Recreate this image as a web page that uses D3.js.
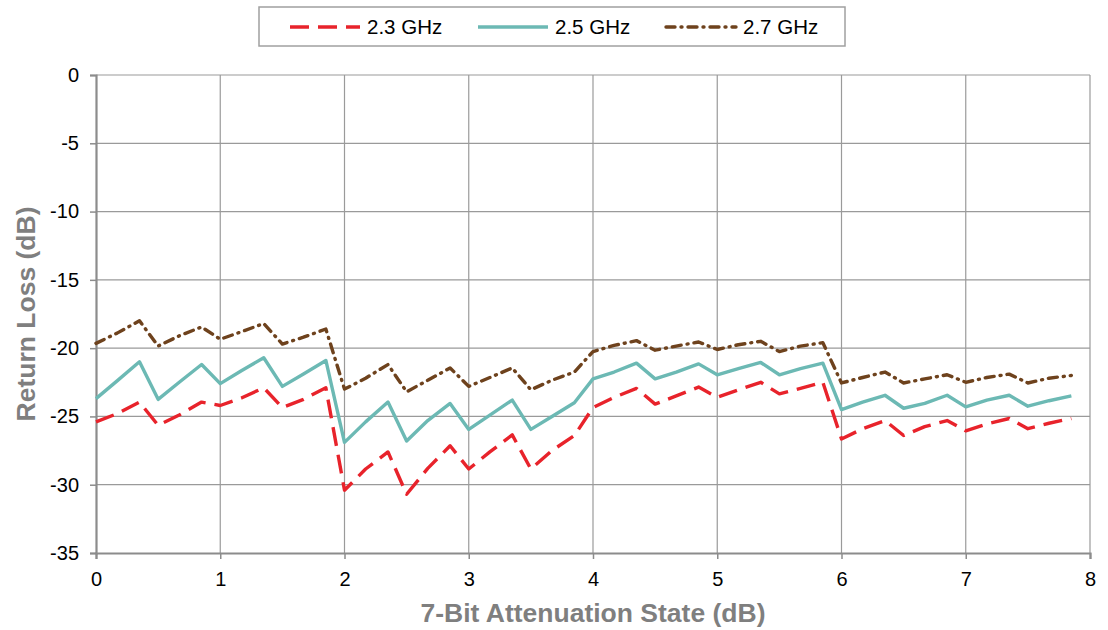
<!DOCTYPE html>
<html><head><meta charset="utf-8">
<script src="https://cdn.jsdelivr.net/npm/d3@7"></script>
<style>
body{margin:0;background:#fff;}
text{font-family:"Liberation Sans",Arial,sans-serif;}
</style></head>
<body><svg id="c" width="1108" height="630"></svg>
<script>
const states = [0,0.17,0.35,0.5,0.67,0.85, 1,1.17,1.35,1.5,1.67,1.85, 2,2.17,2.35,2.5,2.67,2.85, 3,3.17,3.35,3.5,3.67,3.85,
  4,4.17,4.35,4.5,4.67,4.85, 5,5.17,5.35,5.5,5.67,5.85, 6,6.17,6.35,6.5,6.67,6.85, 7,7.17,7.35,7.5,7.67,7.85];
const rl23 = [-25.4,-24.8,-23.95,-25.65,-24.9,-23.95, -24.2,-23.65,-22.9,-24.35,-23.75,-22.9,
  -30.4,-28.85,-27.6,-30.7,-28.8,-27.15, -28.85,-27.6,-26.35,-28.85,-27.5,-26.4,
  -24.35,-23.6,-22.95,-24.1,-23.5,-22.85, -23.6,-23.05,-22.5,-23.35,-22.95,-22.5,
  -26.65,-25.9,-25.3,-26.4,-25.75,-25.3, -26.05,-25.55,-25.15,-25.9,-25.5,-25.15];
const rl25 = [-23.7,-22.4,-21.0,-23.75,-22.5,-21.2, -22.6,-21.65,-20.7,-22.8,-21.9,-20.9,
  -26.9,-25.4,-23.95,-26.8,-25.3,-24.05, -25.95,-24.9,-23.8,-25.95,-25.0,-24.0,
  -22.25,-21.75,-21.1,-22.25,-21.75,-21.15, -21.95,-21.5,-21.05,-21.95,-21.5,-21.1,
  -24.5,-23.95,-23.45,-24.4,-24.05,-23.45, -24.3,-23.8,-23.45,-24.25,-23.85,-23.5];
const rl27 = [-19.65,-18.9,-18.0,-19.85,-19.1,-18.45, -19.35,-18.8,-18.2,-19.7,-19.2,-18.6,
  -23.0,-22.2,-21.2,-23.2,-22.35,-21.45, -22.8,-22.15,-21.45,-23.05,-22.35,-21.75,
  -20.25,-19.8,-19.45,-20.15,-19.85,-19.55, -20.1,-19.75,-19.5,-20.25,-19.85,-19.6,
  -22.55,-22.15,-21.75,-22.55,-22.25,-21.95, -22.5,-22.15,-21.9,-22.55,-22.2,-22.0];
const xTicks = [0,1,2,3,4,5,6,7,8];
const yTicks = [0,-5,-10,-15,-20,-25,-30,-35];
const seriesNames = ["2.3 GHz","2.5 GHz","2.7 GHz"];

const series = [
  {name:seriesNames[0], vals:rl23, color:"#e8232b", dash:"19,9", cap:"butt"},
  {name:seriesNames[1], vals:rl25, color:"#6cb9b4", dash:null, cap:"butt"},
  {name:seriesNames[2], vals:rl27, color:"#6e421d", dash:"9,6,1,6", cap:"round"}
];

const svg = d3.select("#c");
const L=96, R=1090, T=75, B=553;
const x = d3.scaleLinear().domain([0,8]).range([L,R]);
const y = d3.scaleLinear().domain([-35,0]).range([B,T]);

// gridlines
svg.append("g").selectAll("line").data(yTicks.filter(d=>d!==-35)).join("line")
  .attr("x1",L).attr("x2",R).attr("y1",d=>y(d)).attr("y2",d=>y(d))
  .attr("stroke","#9a9a9a").attr("stroke-width",1.2);
svg.append("g").selectAll("line").data(xTicks.filter(d=>d!==0)).join("line")
  .attr("y1",T).attr("y2",B).attr("x1",d=>x(d)).attr("x2",d=>x(d))
  .attr("stroke","#9a9a9a").attr("stroke-width",1.2);

// axes
const yAxis = d3.axisLeft(y).tickValues(yTicks).tickSize(6).tickPadding(11).tickFormat(d=>String(d));
const gy = svg.append("g").attr("transform",`translate(${L},0)`).call(yAxis);
const xAxis = d3.axisBottom(x).tickValues(xTicks).tickSize(6).tickPadding(13).tickFormat(d3.format("d"));
const gx = svg.append("g").attr("transform",`translate(0,${B})`).call(xAxis);
[gx,gy].forEach(g=>{
  g.select(".domain").attr("stroke","#8c8c8c").attr("stroke-width",2.2);
  g.selectAll(".tick line").attr("stroke","#8c8c8c").attr("stroke-width",1.5);
  g.selectAll(".tick text").attr("font-size",20).attr("fill","#000").style("font-family","'Liberation Sans',Arial,sans-serif");
});

// lines
const line = d3.line().x((d,i)=>x(states[i])).y(d=>y(d));
series.forEach(s=>{
  svg.append("path").datum(s.vals).attr("d",line)
    .attr("fill","none").attr("stroke",s.color).attr("stroke-width",3.4)
    .attr("stroke-dasharray",s.dash).attr("stroke-linecap",s.cap).attr("stroke-linejoin","round");
});

// axis titles
svg.append("text").attr("x",(L+R)/2).attr("y",622).attr("text-anchor","middle")
  .attr("font-size",26.5).attr("font-weight","bold").attr("fill","#7f7f7f").text("7-Bit Attenuation State (dB)");
svg.append("text").attr("transform",`translate(35,${(T+B)/2}) rotate(-90)`).attr("text-anchor","middle")
  .attr("font-size",26.5).attr("font-weight","bold").attr("fill","#7f7f7f").text("Return Loss (dB)");

// legend
const lg = svg.append("g");
lg.append("rect").attr("x",259).attr("y",7).attr("width",586).attr("height",39)
  .attr("fill","#fff").attr("stroke","#a0a0a0").attr("stroke-width",1.5);
const lx = [290,478,666];
series.forEach((s,i)=>{
  lg.append("line").attr("x1",lx[i]).attr("x2",lx[i]+70).attr("y1",27).attr("y2",27)
    .attr("stroke",s.color).attr("stroke-width",3.4).attr("stroke-dasharray",s.dash).attr("stroke-linecap",s.cap);
  lg.append("text").attr("x",lx[i]+77).attr("y",34).attr("font-size",20.5).attr("fill","#000").text(s.name);
});
</script></body></html>
